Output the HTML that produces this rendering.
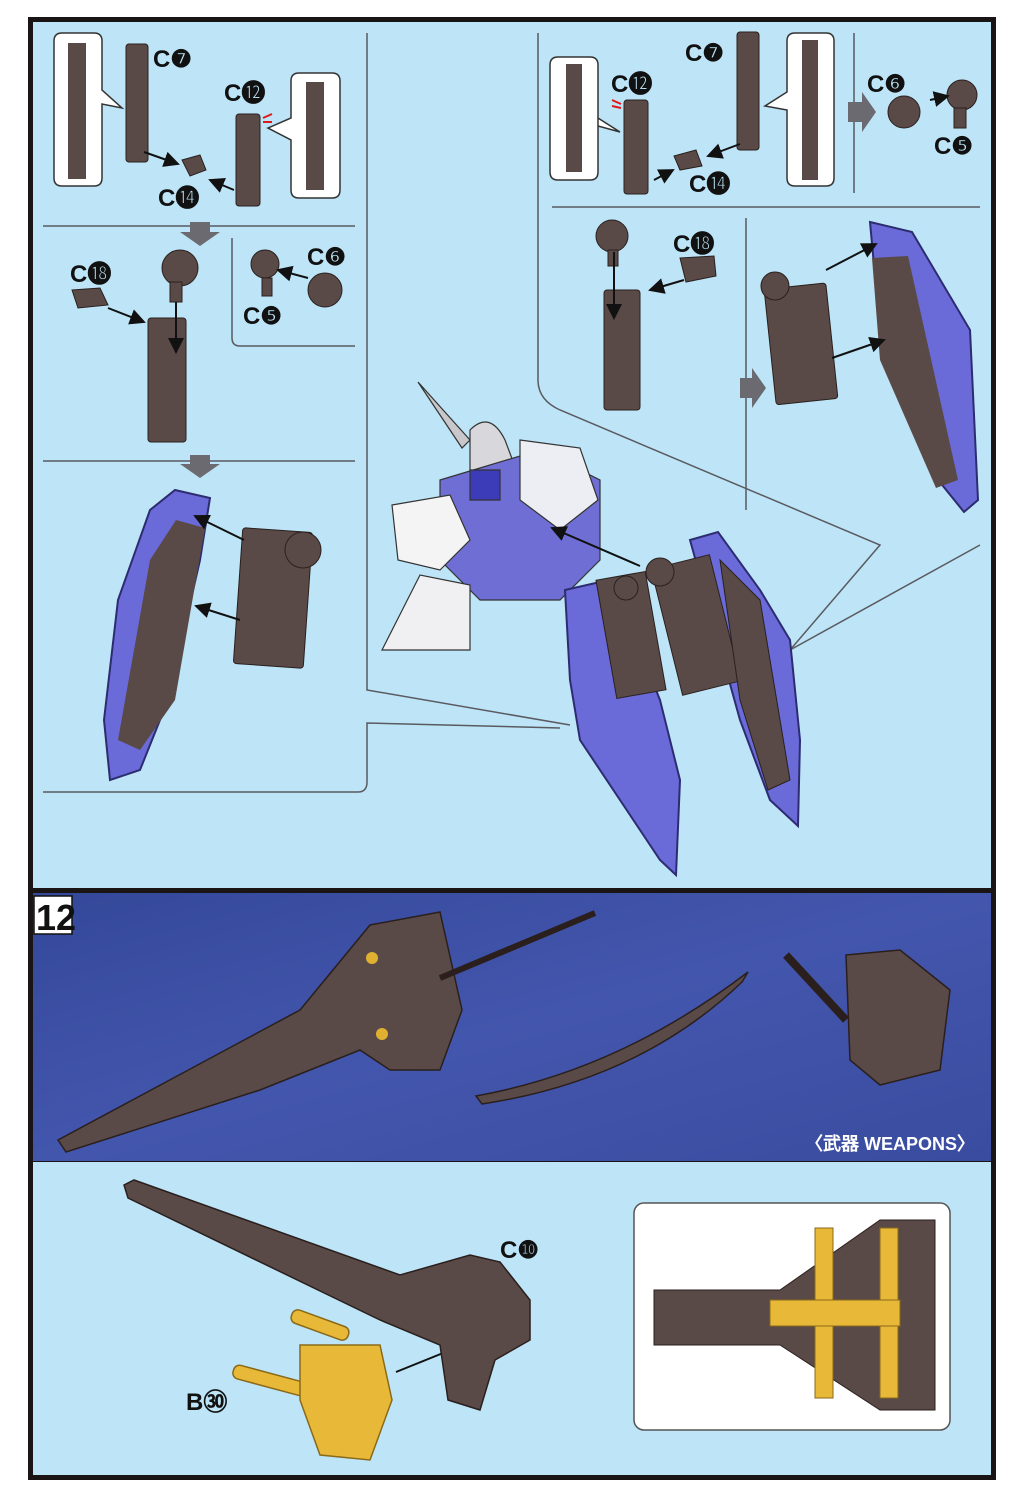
<!DOCTYPE html>
<html><head><meta charset="utf-8"><style>
html,body{margin:0;padding:0;background:#fff;}
svg{display:block;}
text{font-family:"Liberation Sans",Arial,sans-serif;font-weight:bold;}
</style></head><body>
<svg width="1018" height="1500" viewBox="0 0 1018 1500" xmlns="http://www.w3.org/2000/svg">
<defs>
<linearGradient id="band" x1="0" y1="0" x2="1" y2="1">
<stop offset="0" stop-color="#34489a"/><stop offset="0.5" stop-color="#4356ad"/><stop offset="1" stop-color="#3a4c9f"/>
</linearGradient>
<marker id="ar" markerWidth="8" markerHeight="8" refX="7" refY="4" orient="auto"><path d="M0,0 L8,4 L0,8 z" fill="#111"/></marker>
</defs>
<rect x="0" y="0" width="1018" height="1500" fill="#fff"/>
<rect x="28" y="17" width="968" height="1463" fill="#1a1414"/>
<rect x="33" y="22" width="958" height="866" fill="#bde5f7"/>
<rect x="33" y="893" width="958" height="268" fill="url(#band)"/>
<rect x="33" y="1162" width="958" height="313" fill="#bde5f7"/>

<g stroke="#5a5a60" stroke-width="1.5" fill="none">
<line x1="43" y1="226" x2="355" y2="226"/>
<path d="M232,238 V338 Q232,346 240,346 H355"/>
<line x1="43" y1="461" x2="355" y2="461"/>
<path d="M367,33 V690 L570,725"/>
<path d="M43,792 H358 Q367,792 367,782 V723 L560,728"/>
<path d="M538,33 V380 Q538,400 560,410 L880,545 L790,650"/>
<path d="M790,650 L980,545"/>
<line x1="552" y1="207" x2="980" y2="207"/>
<line x1="854" y1="33" x2="854" y2="193"/>
<line x1="746" y1="218" x2="746" y2="510"/>
</g>

<g fill="#fff" stroke="#333" stroke-width="1.5">
<path d="M62,33 H94 Q102,33 102,41 V90 L122,108 L102,104 V178 Q102,186 94,186 H62 Q54,186 54,178 V41 Q54,33 62,33z"/>
<path d="M299,73 H332 Q340,73 340,81 V190 Q340,198 332,198 H299 Q291,198 291,190 V140 L268,128 L291,118 V81 Q291,73 299,73z"/>
<path d="M558,57 H590 Q598,57 598,65 V172 Q598,180 590,180 H558 Q550,180 550,172 V65 Q550,57 558,57z M598,118 L620,132 L598,126"/>
<path d="M795,33 H826 Q834,33 834,41 V178 Q834,186 826,186 H795 Q787,186 787,178 V110 L765,106 L787,92 V41 Q787,33 795,33z"/>
</g>
<g fill="#5a4a47">
<rect x="68" y="43" width="18" height="136"/><rect x="306" y="82" width="18" height="108"/>
<rect x="566" y="64" width="16" height="108"/><rect x="802" y="40" width="16" height="140"/>
</g>

<g fill="#5a4a47" stroke="#2a201e" stroke-width="1">
<rect x="126" y="44" width="22" height="118" rx="3"/>
<rect x="236" y="114" width="24" height="92" rx="3"/>
<path d="M182,160 L200,155 L206,170 L190,176z"/>
<circle cx="180" cy="268" r="18"/><rect x="170" y="282" width="12" height="20"/>
<path d="M72,290 L100,288 L108,305 L78,308z"/>
<rect x="148" y="318" width="38" height="124" rx="3"/>
<circle cx="265" cy="264" r="14"/><rect x="262" y="278" width="10" height="18"/>
<circle cx="325" cy="290" r="17"/>
<rect x="238" y="530" width="70" height="136" rx="3" transform="rotate(4 273 598)"/>
<circle cx="303" cy="550" r="18"/>
</g>
<path d="M175,490 L210,498 L200,560 L168,700 L140,770 L110,780 L104,720 L118,600 L150,510z" fill="#6a6ad8" stroke="#2d2c70" stroke-width="2"/>
<path d="M176,520 L205,528 L175,700 L140,750 L118,740 L150,560z" fill="#5a4a47"/>

<g fill="#5a4a47" stroke="#2a201e" stroke-width="1">
<rect x="624" y="100" width="24" height="94" rx="3"/>
<rect x="737" y="32" width="22" height="118" rx="3"/>
<path d="M674,156 L696,150 L702,166 L680,170z"/>
<circle cx="904" cy="112" r="16"/><circle cx="962" cy="95" r="15"/><rect x="954" y="108" width="12" height="20"/>
<circle cx="612" cy="236" r="16"/><rect x="608" y="250" width="10" height="16"/>
<path d="M680,258 L714,256 L716,276 L686,282z"/>
<rect x="604" y="290" width="36" height="120" rx="3"/>
<rect x="770" y="286" width="62" height="116" rx="3" transform="rotate(-6 800 344)"/>
<circle cx="775" cy="286" r="14"/>
</g>
<path d="M870,222 L912,232 L970,330 L978,500 L964,512 L930,470 L880,330z" fill="#6a6ad8" stroke="#2d2c70" stroke-width="2"/>
<path d="M872,258 L908,256 L958,480 L936,488 L880,360z" fill="#5a4a47"/>

<g stroke="#333" stroke-width="1.2">
<path d="M418,382 L470,440 L462,448z" fill="#c8c8cc"/>
<path d="M470,430 Q490,410 505,440 L520,480 L470,500z" fill="#d8d8dc"/>
<path d="M440,480 L540,450 L600,480 L600,560 L560,600 L480,600 L440,560z" fill="#6e6ed4"/>
<path d="M392,505 L450,495 L470,540 L440,570 L398,560z" fill="#f4f4f4"/>
<path d="M520,440 L580,448 L598,500 L560,530 L520,500z" fill="#eceef4"/>
<path d="M382,650 L420,575 L470,585 L470,650z" fill="#f0f0f2"/>
<path d="M470,470 L500,470 L500,500 L470,500z" fill="#3c3cb8"/>
</g>

<path d="M565,590 L600,582 L640,650 L660,700 L680,780 L676,875 L660,860 L620,800 L580,740 L570,680z" fill="#6a6ad8" stroke="#2d2c70" stroke-width="2"/>
<path d="M690,540 L718,532 L760,590 L790,640 L800,740 L798,826 L770,800 L740,720z" fill="#6a6ad8" stroke="#2d2c70" stroke-width="2"/>
<g fill="#5a4a47" stroke="#2a201e">
<rect x="606" y="575" width="50" height="120" transform="rotate(-10 631 635)"/>
<rect x="666" y="560" width="60" height="130" transform="rotate(-14 696 625)"/>
<path d="M720,560 L760,600 L790,780 L768,790 L740,700z"/>
<circle cx="660" cy="572" r="14"/><circle cx="626" cy="588" r="12"/>
</g>

<g stroke="#111" stroke-width="2" fill="none" marker-end="url(#ar)">
<line x1="144" y1="152" x2="178" y2="164"/><line x1="234" y1="190" x2="210" y2="180"/>
<line x1="176" y1="302" x2="176" y2="352"/><line x1="108" y1="308" x2="144" y2="322"/>
<line x1="308" y1="278" x2="278" y2="270"/>
<line x1="244" y1="540" x2="195" y2="516"/><line x1="240" y1="620" x2="196" y2="606"/>
<line x1="654" y1="180" x2="673" y2="170"/><line x1="740" y1="144" x2="708" y2="156"/>
<line x1="614" y1="252" x2="614" y2="318"/><line x1="684" y1="280" x2="650" y2="290"/>
<line x1="930" y1="100" x2="948" y2="96"/>
<line x1="826" y1="270" x2="876" y2="244"/><line x1="832" y1="358" x2="884" y2="340"/>
<line x1="640" y1="566" x2="552" y2="528"/>
<line x1="396" y1="1372" x2="520" y2="1322"/>
</g>
<g fill="#6a6a70">
<path d="M190,222 H210 V232 H220 L200,246 L180,232 H190z"/>
<path d="M190,455 H210 V464 H220 L200,478 L180,464 H190z"/>
<path d="M848,102 V122 L862,122 V132 L876,112 L862,92 V102z"/>
<path d="M740,378 V398 L752,398 V408 L766,388 L752,368 V378z"/>
</g>
<path d="M612,100 L621,104 M612,106 L621,108" stroke="#e01818" stroke-width="2"/>
<path d="M263,118 L272,114 M263,122 L272,122" stroke="#e01818" stroke-width="2"/>

<g font-size="24" fill="#111">
<text x="153" y="67">C❼</text>
<text x="224" y="101">C⓬</text>
<text x="158" y="206">C⓮</text>
<text x="70" y="282">C⓲</text>
<text x="307" y="265">C❻</text>
<text x="243" y="324">C❺</text>
<text x="685" y="61">C❼</text>
<text x="611" y="92">C⓬</text>
<text x="689" y="192">C⓮</text>
<text x="867" y="92">C❻</text>
<text x="934" y="154">C❺</text>
<text x="673" y="252">C⓲</text>
<text x="500" y="1258">C❿</text>
<text x="186" y="1410">B㉚</text>
</g>

<rect x="34" y="896" width="38" height="38" fill="#fff" stroke="#111" stroke-width="1.5"/>
<text x="36" y="930" font-size="36" fill="#111">12</text>
<g fill="#5a4a47" stroke="#2a1f1d" stroke-width="1.5">
<path d="M58,1140 L300,1010 L370,925 L440,912 L462,1010 L440,1070 L390,1070 L360,1050 L260,1090 L66,1152z"/>
<line x1="440" y1="978" x2="595" y2="913" stroke-width="6"/>
<path d="M476,1096 Q620,1070 748,972 L742,982 Q640,1080 482,1104z"/>
<path d="M846,955 L900,950 L950,990 L940,1070 L880,1085 L850,1060z"/>
<line x1="786" y1="955" x2="846" y2="1020" stroke-width="8"/>
</g>
<circle cx="372" cy="958" r="6" fill="#e0b030"/><circle cx="382" cy="1034" r="6" fill="#e0b030"/>
<text x="805" y="1150" font-size="18" fill="#fff">〈武器 WEAPONS〉</text>

<g fill="#5a4a47" stroke="#2a1f1d" stroke-width="1.5">
<path d="M124,1185 L134,1180 L400,1275 L470,1255 L500,1262 L530,1300 L530,1340 L495,1360 L480,1410 L448,1400 L440,1345 L380,1320 L128,1198z"/>
</g>
<g fill="#e8b838" stroke="#8a6a18" stroke-width="1.5">
<rect x="290" y="1318" width="60" height="14" rx="6" transform="rotate(20 320 1325)"/>
<rect x="232" y="1374" width="80" height="14" rx="6" transform="rotate(15 272 1381)"/>
<path d="M300,1345 L380,1345 L392,1400 L370,1460 L320,1455 L300,1400z"/>
</g>
<rect x="634" y="1203" width="316" height="227" rx="10" fill="#fff" stroke="#555" stroke-width="1.5"/>
<path d="M654,1290 L780,1290 L880,1220 L935,1220 L935,1410 L880,1410 L780,1345 L654,1345z" fill="#5a4a47" stroke="#2a1f1d"/>
<g fill="#e8b838" stroke="#8a6a18">
<rect x="815" y="1228" width="18" height="170"/>
<rect x="880" y="1228" width="18" height="170"/>
<rect x="770" y="1300" width="130" height="26"/>
</g>
</svg>
</body></html>
